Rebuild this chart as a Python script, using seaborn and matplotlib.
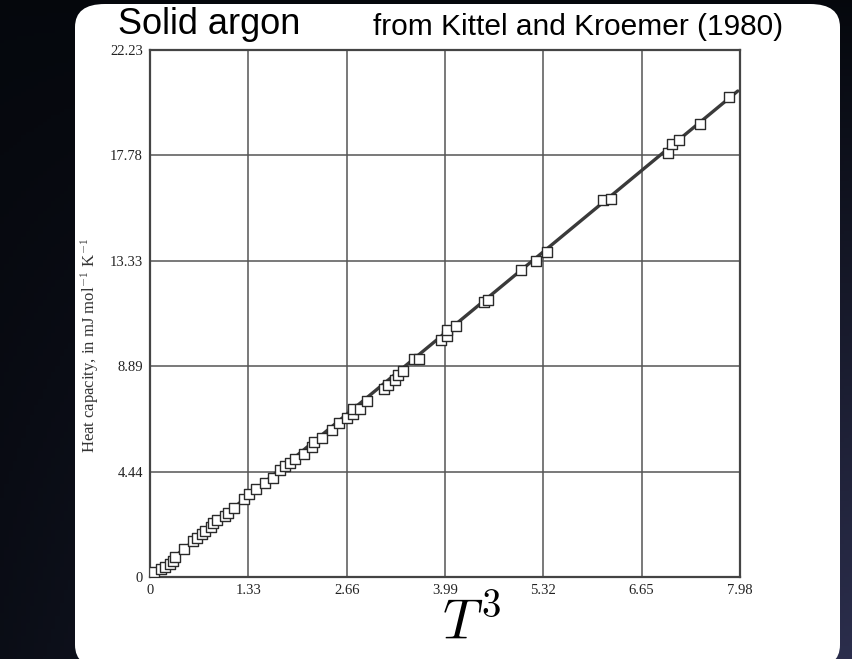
import numpy as np
import pandas as pd
import matplotlib
matplotlib.use("Agg")
import matplotlib.pyplot as plt
from matplotlib.patches import FancyBboxPatch
import seaborn as sns

# measured points (T^3, heat capacity)
t3 = [0.06, 0.15, 0.20, 0.27, 0.31, 0.34, 0.46, 0.58, 0.63, 0.71, 0.74, 0.82,
      0.85, 0.90, 1.01, 1.06, 1.13, 1.27, 1.34, 1.44, 1.56, 1.66, 1.76, 1.83,
      1.89, 1.96, 2.08, 2.19, 2.22, 2.32, 2.46, 2.56, 2.67, 2.74, 2.75, 2.84,
      2.93, 3.16, 3.22, 3.31, 3.36, 3.42, 3.57, 3.64, 3.93, 4.02, 4.02, 4.14,
      4.52, 4.57, 5.02, 5.22, 5.37, 6.13, 6.24, 7.01, 7.06, 7.16, 7.44, 7.83]
heat = [0.19, 0.32, 0.42, 0.54, 0.68, 0.83, 1.17, 1.51, 1.66, 1.81, 1.96, 2.11,
        2.26, 2.41, 2.56, 2.71, 2.91, 3.31, 3.51, 3.72, 3.96, 4.19, 4.52, 4.67,
        4.82, 4.97, 5.20, 5.50, 5.68, 5.88, 6.18, 6.48, 6.70, 6.86, 7.08, 7.08,
        7.41, 7.91, 8.10, 8.30, 8.54, 8.68, 9.18, 9.18, 10.00, 10.17, 10.44, 10.60,
        11.60, 11.70, 12.93, 13.35, 13.70, 15.90, 15.95, 17.90, 18.26, 18.45, 19.10, 20.25]

# fitted straight line
line_t3 = [0.0, 7.95]
line_heat = [0.0, 20.5]

x_ticks = [0, 1.33, 2.66, 3.99, 5.32, 6.65, 7.98]
y_ticks = [0, 4.44, 8.89, 13.33, 17.78, 22.23]
x_ticklabels = ["0", "1.33", "2.66", "3.99", "5.32", "6.65", "7.98"]
y_ticklabels = ["0", "4.44", "8.89", "13.33", "17.78", "22.23"]

points = pd.DataFrame({"T3": t3, "C": heat})
fit = pd.DataFrame({"T3": line_t3, "C": line_heat})

sns.set_style("white")
plt.rcParams["mathtext.fontset"] = "cm"
W, H = 853, 659
fig = plt.figure(figsize=(W / 100, H / 100), dpi=100)

# dark slide background with a slight gradient
bg = fig.add_axes([0, 0, 1, 1], zorder=-10)
gy, gx = np.mgrid[0:1:200j, 0:1:200j]
grad = np.clip(0.15 * gy + 0.85 * gx * gy, 0, 1)
top_col = np.array([0.02, 0.03, 0.05])
bot_col = np.array([0.17, 0.18, 0.30])
img = top_col + grad[..., None] * (bot_col - top_col)
bg.imshow(img, extent=[0, 1, 0, 1], origin="upper", aspect="auto")
bg.set_axis_off()

# white rounded panel
px0, px1, py0, py1 = 75, 840, 4, 668
panel = FancyBboxPatch((px0 / W, 1 - py1 / H), (px1 - px0) / W, (py1 - py0) / H,
                       boxstyle="round,pad=0,rounding_size=0.035",
                       transform=fig.transFigure, facecolor="white",
                       edgecolor="none", zorder=-5)
fig.patches.append(panel)

ax = fig.add_axes([150 / W, 1 - 577 / H, (740 - 150) / W, (577 - 50) / H])
ax.set_facecolor("white")

sns.lineplot(data=fit, x="T3", y="C", ax=ax, color="#3a3a3a", linewidth=2.4, zorder=3)
sns.scatterplot(data=points, x="T3", y="C", ax=ax, marker="s", s=50,
                facecolor="white", edgecolor="#2a2a2a", linewidth=1.0, zorder=4)

ax.set_xlim(0, 7.98)
ax.set_ylim(0, 22.23)
ax.set_xticks(x_ticks)
ax.set_yticks(y_ticks)
serif = ["Liberation Serif", "DejaVu Serif"]
ax.set_xticklabels(x_ticklabels, family=serif, fontsize=10.5, color="#222")
ax.set_yticklabels(y_ticklabels, family=serif, fontsize=10.5, color="#222")
ax.tick_params(length=0, pad=5)
ax.grid(True, color="#555555", linewidth=1.1)
for s in ax.spines.values():
    s.set_color("#444444")
    s.set_linewidth(1.6)

ax.set_xlabel(r"$T^3$", fontsize=40, color="black")
ax.xaxis.set_label_coords(0.545, -0.038)
ax.set_ylabel(r"Heat capacity, in mJ mol$^{-1}$ K$^{-1}$", family=serif,
              fontsize=12, color="#333")
ax.yaxis.set_label_coords(-0.083, 0.44)

sans = ["Liberation Sans", "DejaVu Sans"]
fig.text(118 / W, 1 - 24 / H, "Solid argon", family=sans,
         fontsize=26, va="center", ha="left", color="black")
fig.text(373 / W, 1 - 27 / H, "from Kittel and Kroemer (1980)", family=sans,
         fontsize=21.5, va="center", ha="left", color="black")

fig.savefig("out.png", dpi=100)
